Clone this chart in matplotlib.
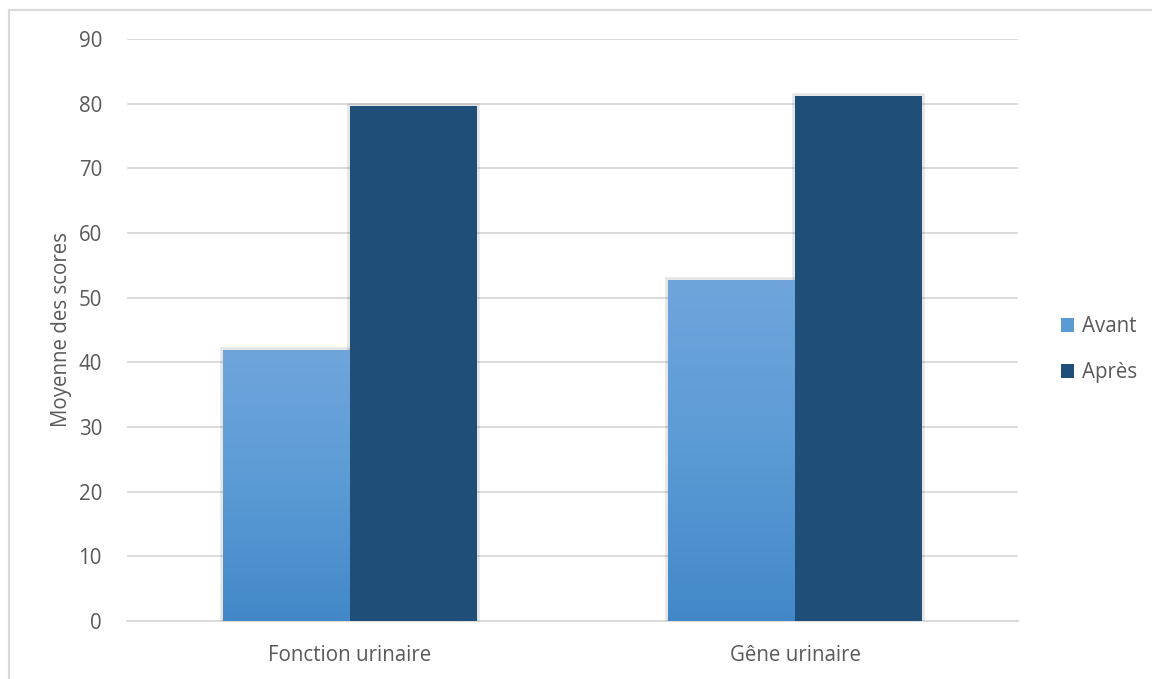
import matplotlib
matplotlib.use("Agg")
import matplotlib.pyplot as plt
import numpy as np
from matplotlib.patches import Rectangle, Patch
from matplotlib.colors import LinearSegmentedColormap
import matplotlib.patheffects as pe

categories = ["Fonction urinaire", "Gêne urinaire"]
avant = [41.9, 52.8]
apres = [79.6, 81.2]
series_labels = ["Avant", "Après"]
yticks = [0, 10, 20, 30, 40, 50, 60, 70, 80, 90]

plt.rcParams['font.family'] = ['Open Sans', 'DejaVu Sans']
text_color = "#595959"
grid_color = "#D9D9D9"
dark_blue = "#1F4E79"
light_blue = "#5B9BD5"
fs = 14.8

fig = plt.figure(figsize=(11.52, 6.79), dpi=100)
ax = fig.add_axes([0.1102, 0.0854, 0.7735, 0.8572])

x = np.arange(len(categories))
width = 0.285

shadow = [pe.Stroke(linewidth=4, foreground="#000000", alpha=0.10), pe.Normal()]

bars_av = ax.bar(x - width / 2, avant, width, color=light_blue, zorder=3,
                 label=series_labels[0])
bars_ap = ax.bar(x + width / 2, apres, width, color=dark_blue, zorder=3,
                 label=series_labels[1], path_effects=shadow)

# vertical gradient fill for the "Avant" bars
grad_cmap = LinearSegmentedColormap.from_list(
    "avant_grad", ["#4288C8", "#5B9BD5", "#6FA5DB"])
grad = np.linspace(0, 1, 256).reshape(-1, 1)
for b in bars_av:
    b.set_path_effects(shadow)
    x0, y0 = b.get_x(), b.get_y()
    w, h = b.get_width(), b.get_height()
    im = ax.imshow(grad, cmap=grad_cmap, origin="lower", aspect="auto",
                   extent=[x0, x0 + w, y0, y0 + h], zorder=3.5)
    im.set_clip_path(b)

ax.set_xlim(-0.5, 1.5)
ax.set_ylim(0, 90)
ax.set_yticks(yticks)
ax.set_xticks(x)
ax.set_xticklabels(categories)
ax.yaxis.grid(True, color=grid_color, linewidth=1.3, zorder=0)
ax.set_axisbelow(True)
for s in ["top", "right", "left"]:
    ax.spines[s].set_visible(False)
ax.spines["bottom"].set_color(grid_color)
ax.spines["bottom"].set_linewidth(1.3)
ax.tick_params(axis="both", length=0, labelsize=fs, colors=text_color)
ax.tick_params(axis="y", pad=18)
ax.tick_params(axis="x", pad=17)
ax.set_ylabel("Moyenne des scores", fontsize=fs, color=text_color, labelpad=5)

handles = [Patch(facecolor=light_blue, label=series_labels[0]),
           Patch(facecolor=dark_blue, label=series_labels[1])]
fig.legend(handles=handles, loc="center left", bbox_to_anchor=(0.905, 0.485),
           frameon=False, fontsize=fs, labelcolor=text_color,
           handlelength=0.65, handleheight=0.65, handletextpad=0.35,
           labelspacing=1.2)

# light frame around the chart area
fig.patches.append(Rectangle((9 / 1152, -0.1), 1.2, (1 - 10 / 679) + 0.1,
                             transform=fig.transFigure, fill=False,
                             edgecolor=grid_color, linewidth=1.5))

fig.savefig("out.png", dpi=100, facecolor="white")
